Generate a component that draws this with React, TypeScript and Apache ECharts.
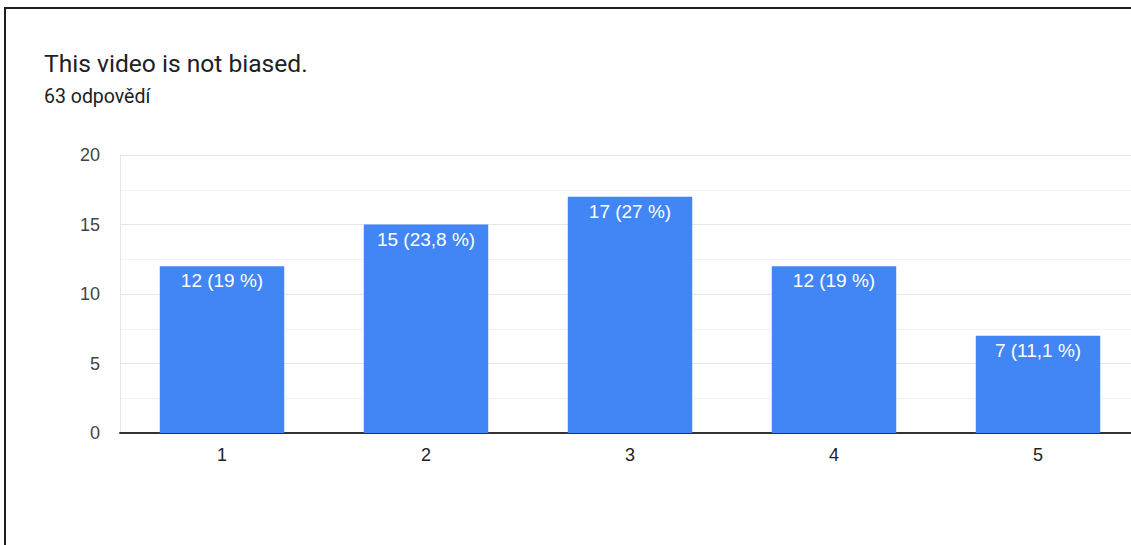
import React, { useEffect, useRef } from "react";
import * as echarts from "echarts";

const categories = ["1", "2", "3", "4", "5"];
const counts = [12, 15, 17, 12, 7];
const percentLabels = ["19 %", "23,8 %", "27 %", "19 %", "11,1 %"];
const titleText = "This video is not biased.";
const subtitleText = "63 odpovědí";

export default function App() {
  const ref = useRef<HTMLDivElement>(null);
  useEffect(() => {
    if (!ref.current) return;
    const chart = echarts.init(ref.current, null, { renderer: "svg" });
    chart.setOption({
      animation: false,
      backgroundColor: "#ffffff",
      grid: { left: 120, top: 155, right: 0, height: 278, containLabel: false },
      graphic: [
        {
          type: "polyline",
          shape: { points: [[5, 560], [5, 8], [1140, 8]] },
          style: { stroke: "#1f1f1f", lineWidth: 2, fill: "none" },
        },
        {
          type: "text",
          x: 44,
          y: 63,
          style: {
            text: titleText,
            font: "24.6px Roboto",
            fill: "#202124",
            textVerticalAlign: "middle",
          },
        },
        {
          type: "text",
          x: 44,
          y: 96,
          style: {
            text: subtitleText,
            font: "19.5px Roboto",
            fill: "#202124",
            textVerticalAlign: "middle",
          },
        },
      ],
      xAxis: {
        type: "category",
        data: categories,
        axisLine: { show: true, lineStyle: { color: "#333333", width: 2 } },
        axisTick: { show: false },
        axisLabel: {
          color: "#222222",
          fontSize: 18,
          fontFamily: "Liberation Sans",
          margin: 13,
        },
      },
      yAxis: {
        type: "value",
        min: 0,
        max: 20,
        interval: 5,
        axisLine: { show: true, lineStyle: { color: "#e6e6e6", width: 1 } },
        axisTick: { show: false },
        axisLabel: {
          color: "#444444",
          fontSize: 18,
          fontFamily: "Liberation Sans",
          margin: 20,
        },
        splitLine: { show: true, lineStyle: { color: "#e6e6e6", width: 1 } },
        minorTick: { show: false, splitNumber: 2 },
        minorSplitLine: { show: true, lineStyle: { color: "#f2f2f2", width: 1 } },
      },
      series: [
        {
          type: "bar",
          data: counts,
          barWidth: "61%",
          itemStyle: { color: "#4285F4" },
          label: {
            show: true,
            position: "insideTop",
            distance: 5,
            color: "#ffffff",
            fontSize: 19,
            fontFamily: "Liberation Sans",
            formatter: (p: any) => `${p.value} (${percentLabels[p.dataIndex]})`,
          },
        },
      ],
    });
    return () => chart.dispose();
  }, []);
  return (
    <div
      style={{
        position: "fixed",
        left: 0,
        top: 0,
        width: 1131,
        height: 545,
        overflow: "hidden",
        background: "#ffffff",
      }}
    >
      <div ref={ref} style={{ width: 1140, height: 545 }} />
    </div>
  );
}
